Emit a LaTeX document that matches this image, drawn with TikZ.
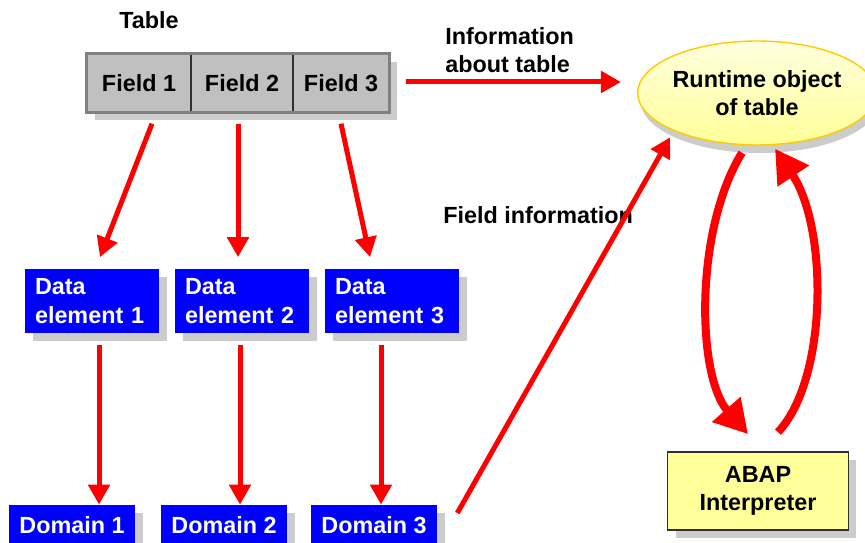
\documentclass[tikz,border=0pt]{standalone}
\usepackage{fontspec}
\setmainfont{Liberation Sans}
\usetikzlibrary{arrows.meta, positioning, calc, shapes.geometric, shadows}
\definecolor{arrowred}{HTML}{FF0000}
\definecolor{boxblue}{HTML}{0000FF}
\definecolor{cellgray}{HTML}{C0C0C0}
\definecolor{framegray}{HTML}{808080}
\definecolor{cellline}{HTML}{303030}
\definecolor{shadowgray}{HTML}{CCCCCC}
\definecolor{paleyellow}{HTML}{FFFF99}
\definecolor{lightyellow}{HTML}{FFFFDD}
\definecolor{goldline}{HTML}{FFCC00}
\tikzset{
    txt/.style={font=\fontsize{13.3}{16.3}\selectfont\bfseries, inner sep=0pt},
    shade8/.style={drop shadow={shadow xshift=0.16cm, shadow yshift=-0.16cm,
        opacity=1, fill=shadowgray}},
    field/.style={txt, draw=cellline, line width=0.8pt, fill=cellgray,
        minimum height=1.16cm, shade8},
    delem/.style={txt, fill=boxblue, text=white, align=left, text width=2.28cm,
        inner xsep=0.2cm, minimum height=1.3cm, shade8},
    dombox/.style={txt, fill=boxblue, text=white, minimum width=2.52cm,
        minimum height=0.8cm, shade8},
    runtime/.style={txt, ellipse, draw=goldline, line width=0.8pt,
        top color=lightyellow, bottom color=paleyellow, align=center,
        minimum width=4.36cm, minimum height=2.08cm,
        drop shadow={shadow xshift=0.06cm, shadow yshift=-0.16cm,
        opacity=1, fill=shadowgray}},
    interp/.style={txt, draw=cellline, line width=1pt, fill=paleyellow,
        align=center, minimum width=3.62cm, minimum height=1.56cm, shade8},
    arr/.style={-{Triangle[length=0.4cm, width=0.42cm]}, line width=0.1cm,
        arrowred},
    bigarr/.style={-{Triangle[length=0.66cm, width=0.72cm]}, line width=0.16cm,
        arrowred},
}
\begin{document}
\begin{tikzpicture}[x=0.02cm, y=-0.02cm]
    \useasboundingbox (0,0) rectangle (865,543);

    % Tabelle
    \node[txt] (tbl) at (149,20) {Table};
    \node[field, minimum width=2.08cm] (f1) at (139,83) {Field 1};
    \node[field, minimum width=2.04cm] (f2) at (242,83) {Field 2};
    \node[field, minimum width=1.92cm] (f3) at (341,83) {Field 3};
    \draw[framegray, line width=0.06cm] (f1.north west) rectangle (f3.south east);

    % Datenelemente
    \node[delem] (de1) at (92,301) {Data\\element 1};
    \node[delem] (de2) at (242,301) {Data\\element 2};
    \node[delem] (de3) at (392,301) {Data\\element 3};

    % Domaenen
    \node[dombox] (d1) at (72,525) {Domain 1};
    \node[dombox] (d2) at (224,525) {Domain 2};
    \node[dombox] (d3) at (374,525) {Domain 3};

    % Laufzeitobjekt und Interpreter
    \node[runtime] (rto) at (757,93) {Runtime object\\of table};
    \node[interp] (abap) at (758,491) {ABAP\\Interpreter};

    % Beschriftungen
    \node[txt, anchor=west, align=left] (info) at (445,50) {Information\\about table};
    \node[txt, anchor=west] (finfo) at (443,215) {Field information};

    % Pfeile
    \draw[arr] ($(f1.south)+(13,11)$) -- ($(de1.north)+(8,-11)$);
    \draw[arr] ($(f2.south)+(-4,11)$) -- ($(de2.north)+(-4,-11)$);
    \draw[arr] ($(f3.south)+(0,11)$) -- ($(de3.north)+(-22,-11)$);
    \draw[arr] ($(de1.south)+(7,11)$) -- ($(d1.north)+(27,0)$);
    \draw[arr] ($(de2.south)+(-2,11)$) -- ($(d2.north)+(16,0)$);
    \draw[arr] ($(de3.south)+(-11,11)$) -- ($(d3.north)+(7,0)$);
    \draw[arr] ($(f3.east)+(16,-1)$) -- ($(rto.west)+(-16,-11)$);
    \draw[arr] ($(d3.east)+(20,-12)$) -- ($(rto.south west)+(-2,7)$);

    \draw[bigarr] ($(rto.south)+(-15,7)$) .. controls +(-48,78) and +(-51,-58)
        .. ($(abap.north)+(-10,-17)$);
    \draw[bigarr] ($(abap.north)+(20,-19)$) .. controls +(50,-53) and +(53,79)
        .. ($(rto.south)+(18,3)$);
\end{tikzpicture}
\end{document}
